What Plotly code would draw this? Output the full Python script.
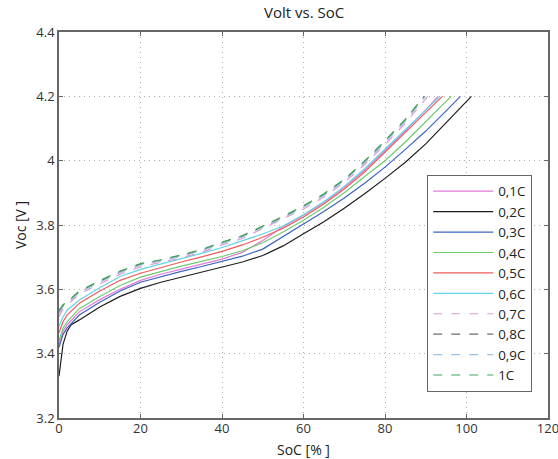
import plotly.graph_objects as go

# ---- data ----
soc_01 = [0, 1, 2, 5, 10, 15, 20, 25, 30, 35, 40, 45, 50, 55, 60, 65, 70, 75, 80, 85, 90, 93]
v_01 = [3.43, 3.47, 3.49, 3.53, 3.568, 3.60, 3.628, 3.647, 3.663, 3.678, 3.694, 3.715, 3.752, 3.795, 3.83, 3.87, 3.917, 3.97, 4.03, 4.093, 4.158, 4.2]

soc_02 = [0, 0.5, 1, 2, 3, 5, 10, 15, 20, 25, 30, 35, 40, 45, 50, 55, 60, 65, 70, 75, 80, 85, 90, 95, 101.2]
v_02 = [3.33, 3.39, 3.43, 3.47, 3.49, 3.505, 3.545, 3.578, 3.603, 3.622, 3.638, 3.653, 3.669, 3.685, 3.705, 3.735, 3.773, 3.81, 3.852, 3.897, 3.945, 3.995, 4.052, 4.118, 4.2]

soc_03 = [0, 1, 2, 5, 10, 15, 20, 25, 30, 35, 40, 45, 50, 55, 60, 65, 70, 75, 80, 85, 90, 95, 98.5]
v_03 = [3.42, 3.46, 3.48, 3.52, 3.56, 3.595, 3.622, 3.64, 3.656, 3.671, 3.686, 3.703, 3.725, 3.765, 3.803, 3.842, 3.884, 3.93, 3.98, 4.035, 4.092, 4.155, 4.2]

soc_04 = [0, 1, 2, 5, 10, 15, 20, 25, 30, 35, 40, 45, 50, 55, 60, 65, 70, 75, 80, 85, 90, 96.2]
v_04 = [3.44, 3.48, 3.50, 3.54, 3.578, 3.612, 3.638, 3.656, 3.672, 3.687, 3.702, 3.72, 3.745, 3.778, 3.815, 3.855, 3.90, 3.951, 4.0, 4.058, 4.12, 4.2]

soc_05 = [0, 1, 2, 5, 10, 15, 20, 25, 30, 35, 40, 45, 50, 55, 60, 65, 70, 75, 80, 85, 90, 94.1]
v_05 = [3.465, 3.50, 3.52, 3.557, 3.595, 3.628, 3.65, 3.668, 3.685, 3.701, 3.718, 3.738, 3.762, 3.79, 3.825, 3.865, 3.912, 3.965, 4.025, 4.088, 4.15, 4.2]

soc_06 = [0, 1, 2, 5, 10, 15, 20, 25, 30, 35, 40, 45, 50, 55, 60, 65, 70, 75, 80, 85, 90, 93.5]
v_06 = [3.485, 3.515, 3.535, 3.567, 3.605, 3.64, 3.662, 3.678, 3.695, 3.712, 3.73, 3.75, 3.772, 3.797, 3.832, 3.872, 3.92, 3.975, 4.035, 4.098, 4.157, 4.2]

soc_07 = [0, 1, 2.5, 5, 10, 15, 20, 25, 30, 35, 40, 45, 50, 55, 60, 65, 70, 75, 80, 85, 90.5]
v_07 = [3.515, 3.54, 3.557, 3.585, 3.617, 3.647, 3.67, 3.683, 3.698, 3.715, 3.738, 3.758, 3.788, 3.818, 3.85, 3.887, 3.932, 3.988, 4.05, 4.117, 4.2]

soc_08 = [0, 1, 2.5, 5, 10, 15, 20, 25, 30, 35, 40, 45, 50, 55, 60, 65, 70, 75, 80, 85, 89.6]
v_08 = [3.53, 3.55, 3.565, 3.593, 3.625, 3.655, 3.678, 3.69, 3.705, 3.722, 3.745, 3.765, 3.795, 3.825, 3.858, 3.895, 3.94, 3.997, 4.06, 4.127, 4.2]

soc_09 = [0, 1, 2.5, 5, 10, 15, 20, 25, 30, 35, 40, 45, 50, 55, 60, 65, 70, 75, 80, 85, 89.9]
v_09 = [3.525, 3.547, 3.562, 3.59, 3.622, 3.652, 3.675, 3.688, 3.703, 3.72, 3.743, 3.763, 3.792, 3.822, 3.855, 3.892, 3.937, 3.993, 4.056, 4.123, 4.2]

soc_10 = [0, 1, 2.5, 5, 10, 15, 20, 25, 30, 35, 40, 45, 50, 55, 60, 65, 70, 75, 80, 85, 89.6]
v_10 = [3.535, 3.552, 3.567, 3.595, 3.627, 3.657, 3.68, 3.692, 3.707, 3.724, 3.747, 3.767, 3.797, 3.827, 3.86, 3.897, 3.942, 3.999, 4.062, 4.129, 4.2]

names = ["0,1C", "0,2C", "0,3C", "0,4C", "0,5C", "0,6C", "0,7C", "0,8C", "0,9C", "1C"]
socs = [soc_01, soc_02, soc_03, soc_04, soc_05, soc_06, soc_07, soc_08, soc_09, soc_10]
volts = [v_01, v_02, v_03, v_04, v_05, v_06, v_07, v_08, v_09, v_10]
colors = ["#e27ad6", "#1e1e1e", "#3b64c0", "#6dcc6d", "#f05a5a", "#5fd4e8",
          "#dc9ed4", "#6e6e6e", "#a0bede", "#3aa85a"]
dashes = ["solid"] * 6 + ["dash"] * 4

x_ticks = [0, 20, 40, 60, 80, 100, 120]
y_ticks = [3.2, 3.4, 3.6, 3.8, 4.0, 4.2, 4.4]
y_labels = ["3.2", "3.4", "3.6", "3.8", "4", "4.2", "4.4"]

FONT = "Open Sans"

fig = go.Figure()
for n, s, v, c, d in zip(names, socs, volts, colors, dashes):
    fig.add_trace(go.Scatter(x=s, y=v, mode="lines", name=n,
                             line=dict(color=c, width=1.2, dash=d)))

axis_common = dict(
    showline=True, linecolor="#666666", linewidth=1.5, mirror="ticks",
    ticks="inside", ticklen=4, tickcolor="#666666",
    showgrid=True, gridcolor="#b0b0b0", griddash="1px,4px", gridwidth=1,
    zeroline=False, tickfont=dict(family=FONT, size=13, color="#333333"),
    automargin=False, ticklabeloverflow="allow",
)

fig.update_layout(
    width=558, height=459,
    margin=dict(l=59, r=10, t=32, b=41),
    paper_bgcolor="white", plot_bgcolor="white",
    title=dict(text="Volt vs. SoC", x=0.545, xanchor="center", y=0.9717, yanchor="middle",
               font=dict(family=FONT, size=15, color="#222222")),
    showlegend=True,
    legend=dict(x=0.753, y=0.6295, xanchor="left", yanchor="top",
                bgcolor="white", bordercolor="#666666", borderwidth=1,
                font=dict(family=FONT, size=13.4, color="#222222"),
                itemwidth=60, tracegroupgap=0),
    xaxis=dict(range=[0, 120], tickvals=x_ticks, ticklabelstandoff=-2, **axis_common),
    yaxis=dict(range=[3.2, 4.4], tickvals=y_ticks, ticktext=y_labels, **axis_common),
    annotations=[
        dict(text="SoC [% ]", xref="paper", yref="paper", x=0.5, y=-0.0829,
             xanchor="center", yanchor="middle", showarrow=False,
             font=dict(family=FONT, size=14, color="#222222")),
        dict(text="Voc [V ]", xref="paper", yref="paper", x=-0.0796, y=0.5,
             xanchor="center", yanchor="middle", showarrow=False, textangle=-90,
             font=dict(family=FONT, size=14, color="#222222")),
    ],
)

fig.write_html("out.html", config={"displayModeBar": False},
               post_script="document.body.style.margin='0px';")
